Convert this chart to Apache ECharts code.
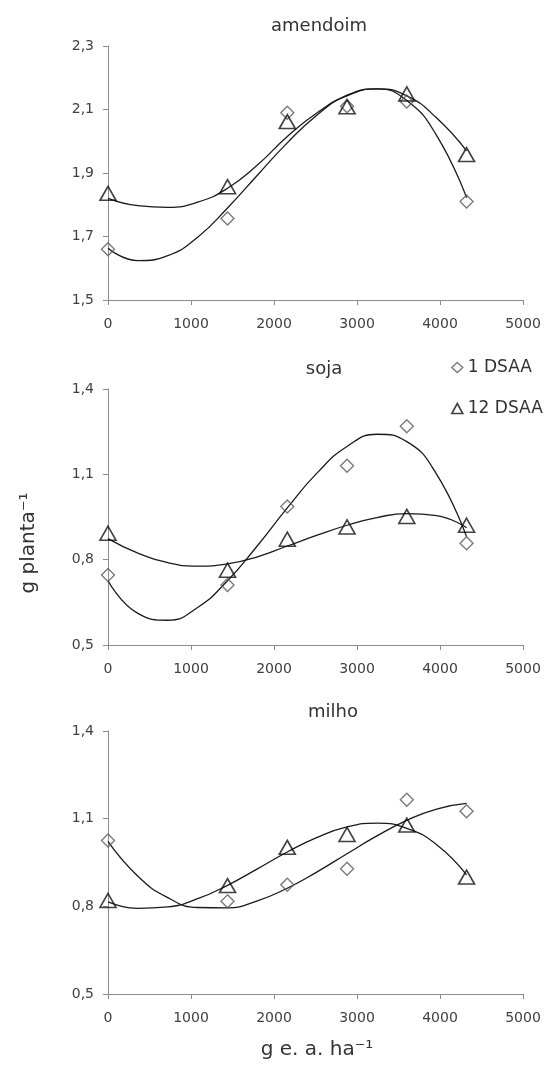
<!DOCTYPE html>
<html>
<head>
<meta charset="utf-8">
<title>amendoim / soja / milho</title>
<script src="https://cdn.jsdelivr.net/npm/echarts@6/dist/echarts.min.js"></script>
<style>
  html, body { margin: 0; padding: 0; background: #fff; }
  #chart { width: 552px; height: 1065px; }
</style>
</head>
<body>
<div id="chart"></div>
<script>
// doses (g e. a. ha-1)
const doses = [0, 1440, 2160, 2880, 3600, 4320];
const curveX = [0, 360, 720, 1080, 1440, 1800, 2160, 2520, 2880, 3240, 3600, 3960, 4320];

// amendoim
const amendoim1 = [1.66, 1.757, 2.09, 2.11, 2.125, 1.81];
const amendoim12 = [1.836, 1.857, 2.062, 2.109, 2.149, 1.958];
const amendoimFit1 = [1.663, 1.624, 1.64, 1.698, 1.79, 1.893, 1.995, 2.083, 2.145, 2.165, 2.128, 2.018, 1.822];
const amendoimFit12 = [1.82, 1.797, 1.792, 1.808, 1.852, 1.925, 2.015, 2.09, 2.143, 2.165, 2.143, 2.073, 1.97];

// soja
const soja1 = [0.746, 0.711, 0.987, 1.130, 1.269, 0.858];
const soja12 = [0.893, 0.763, 0.872, 0.915, 0.952, 0.921];
const sojaFit1 = [0.726, 0.611, 0.587, 0.632, 0.726, 0.849, 0.982, 1.105, 1.198, 1.241, 1.215, 1.1, 0.88];
const sojaFit12 = [0.874, 0.823, 0.79, 0.777, 0.785, 0.81, 0.848, 0.886, 0.921, 0.948, 0.962, 0.955, 0.912];

// milho
const milho1 = [1.025, 0.817, 0.874, 0.929, 1.165, 1.125];
const milho12 = [0.820, 0.871, 1.002, 1.046, 1.078, 0.900];
const milhoFit1 = [1.022, 0.903, 0.83, 0.796, 0.795, 0.819, 0.862, 0.918, 0.98, 1.041, 1.094, 1.133, 1.152];
const milhoFit12 = [0.815, 0.793, 0.798, 0.826, 0.872, 0.928, 0.986, 1.036, 1.072, 1.085, 1.067, 1.011, 0.908];

// marcas dos eixos
const xTicks = [0, 1000, 2000, 3000, 4000, 5000];
const yTicksAmendoim = [1.5, 1.7, 1.9, 2.1, 2.3];
const yTicksOutros = [0.5, 0.8, 1.1, 1.4];

const panels = [
  { title: "amendoim", d1: amendoim1, d12: amendoim12, f1: amendoimFit1, f12: amendoimFit12, yTicks: yTicksAmendoim, top: 46, height: 254, titleX: 319, titleY: 26 },
  { title: "soja", d1: soja1, d12: soja12, f1: sojaFit1, f12: sojaFit12, yTicks: yTicksOutros, top: 389, height: 256, titleX: 324, titleY: 369 },
  { title: "milho", d1: milho1, d12: milho12, f1: milhoFit1, f12: milhoFit12, yTicks: yTicksOutros, top: 731, height: 263, titleX: 333, titleY: 712 },
];

const FONT = "DejaVu Sans";
const axisGray = "#8c8c8c";
const diamondStyle = { color: "transparent", borderColor: "#5a5a5a", borderWidth: 1.4 };
const triangleStyle = { color: "transparent", borderColor: "#111", borderWidth: 1.6 };

function pairs(xs, ys) {
  return xs.map((x, i) => [x, ys[i]]);
}

var chartDom = document.getElementById("chart");
var myChart = echarts.init(chartDom, null, { renderer: "canvas" });

var grids = [], xAxes = [], yAxes = [], series = [], texts = [];

panels.forEach((p, i) => {
  grids.push({ left: 108, top: p.top, width: 415, height: p.height });
  xAxes.push({
    type: "value",
    gridIndex: i,
    min: 0,
    max: 5000,
    axisLine: { show: true, lineStyle: { color: axisGray, width: 1 } },
    axisTick: { show: true, length: 5, lineStyle: { color: axisGray }, customValues: xTicks },
    axisLabel: {
      fontFamily: FONT,
      fontSize: 14,
      color: "#404040",
      margin: 17,
      customValues: xTicks,
      formatter: (v) => String(v),
    },
    splitLine: { show: false },
  });
  yAxes.push({
    type: "value",
    gridIndex: i,
    min: p.yTicks[0],
    max: p.yTicks[p.yTicks.length - 1],
    axisLine: { show: true, lineStyle: { color: axisGray, width: 1 } },
    axisTick: { show: true, length: 5, lineStyle: { color: axisGray }, customValues: p.yTicks },
    axisLabel: {
      fontFamily: FONT,
      fontSize: 14,
      color: "#404040",
      margin: 14,
      customValues: p.yTicks,
      formatter: (v) => v.toFixed(1).replace(".", ","),
    },
    splitLine: { show: false },
  });

  // curvas de ajuste
  [p.f1, p.f12].forEach((fit, k) => {
    series.push({
      name: k === 0 ? "ajuste 1 DSAA" : "ajuste 12 DSAA",
      type: "line",
      xAxisIndex: i,
      yAxisIndex: i,
      data: pairs(curveX, fit),
      smooth: 0.5,
      showSymbol: false,
      silent: true,
      lineStyle: { color: "#1a1a1a", width: 1.3 },
      z: 2,
    });
  });
  // pontos observados
  series.push({
    name: "1 DSAA",
    type: "scatter",
    xAxisIndex: i,
    yAxisIndex: i,
    data: pairs(doses, p.d1),
    symbol: "diamond",
    symbolSize: [13, 13],
    itemStyle: diamondStyle,
    z: 3,
  });
  series.push({
    name: "12 DSAA",
    type: "scatter",
    xAxisIndex: i,
    yAxisIndex: i,
    data: pairs(doses, p.d12),
    symbol: "triangle",
    symbolSize: [16, 14],
    itemStyle: triangleStyle,
    z: 3,
  });

  texts.push({
    type: "text",
    x: p.titleX,
    y: p.titleY,
    style: { text: p.title, fontFamily: FONT, fontSize: 18, fill: "#333", textAlign: "center", textVerticalAlign: "middle" },
  });
});

// titulos dos eixos
texts.push({
  type: "text",
  x: 29,
  y: 543,
  rotation: Math.PI / 2,
  style: { text: "g planta\u207B\u00B9", fontFamily: FONT, fontSize: 20, fill: "#333", textAlign: "center", textVerticalAlign: "middle" },
});
texts.push({
  type: "text",
  x: 317,
  y: 1050,
  style: { text: "g e. a. ha\u207B\u00B9", fontFamily: FONT, fontSize: 20, fill: "#333", textAlign: "center", textVerticalAlign: "middle" },
});

var option = {
  backgroundColor: "#fff",
  animation: false,
  grid: grids,
  xAxis: xAxes,
  yAxis: yAxes,
  legend: {
    orient: "vertical",
    left: 451,
    top: 359,
    padding: 0,
    itemWidth: 11,
    itemHeight: 10,
    itemGap: 24,
    selectedMode: false,
    textStyle: { fontFamily: FONT, fontSize: 17, color: "#333" },
    data: [
      { name: "1 DSAA", icon: "diamond", itemStyle: diamondStyle },
      { name: "12 DSAA", icon: "triangle", itemStyle: triangleStyle },
    ],
  },
  graphic: texts,
  series: series,
};

option && myChart.setOption(option);
</script>
</body>
</html>
